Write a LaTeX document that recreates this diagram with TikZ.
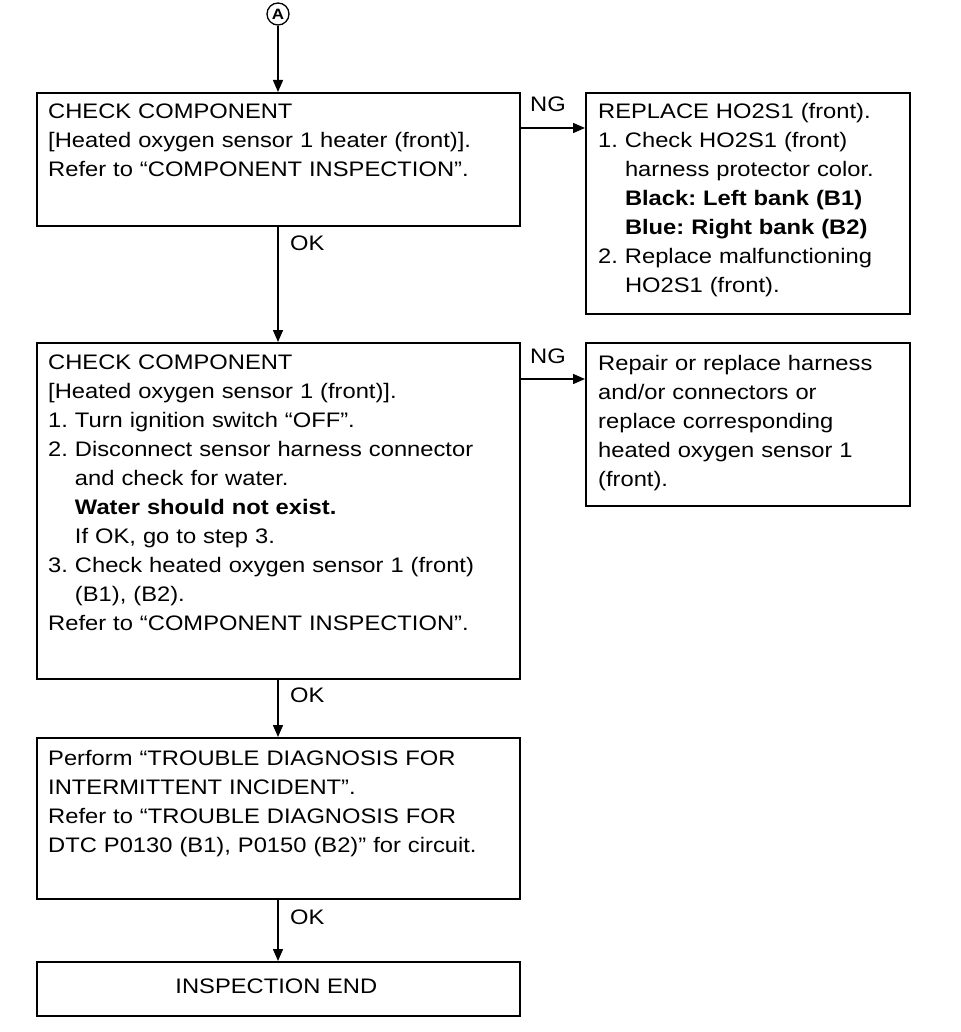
\documentclass[tikz,border=0pt]{standalone}
\usepackage{fontspec}
\setmainfont{Liberation Sans}[FakeStretch=1.13]
\usetikzlibrary{arrows.meta,calc}
\frenchspacing
\begin{document}
\begin{tikzpicture}[x=1pt,y=1pt,
  box/.style={draw,line width=1.7pt,rectangle,inner sep=0pt,anchor=north west},
  txt/.style={anchor=north west,inner sep=0pt,align=left,text width=#1,font=\fontsize{21}{29}\selectfont\frenchspacing},
  txt/.default=470pt,
  lbl/.style={inner sep=0pt,font=\fontsize{21}{25}\selectfont},
  arr/.style={line width=1.4pt,-{Triangle[length=12pt,width=10pt]}}]
\useasboundingbox (0,0) rectangle (960,-1032);
% circle A
\node[draw,circle,line width=1.3pt,inner sep=0pt,minimum size=22pt,font=\fontsize{15}{15}\selectfont\bfseries] (A) at (278,-14) {A};
% boxes
\node[box,minimum width=483pt,minimum height=133pt] (b1) at (36,-92) {};
\node[box,minimum width=324pt,minimum height=221pt] (r1) at (585,-92) {};
\node[box,minimum width=483pt,minimum height=336pt] (b2) at (36,-342) {};
\node[box,minimum width=324pt,minimum height=163pt] (r2) at (585,-342) {};
\node[box,minimum width=483pt,minimum height=161pt] (b3) at (36,-737) {};
\node[box,minimum width=483pt,minimum height=54pt] (b4) at (36,-961) {};
% texts
\node[txt] (t1) at (48,-97.7) {\strut CHECK COMPONENT\\
{[}Heated oxygen sensor 1 heater (front)].\\
Refer to “COMPONENT INSPECTION”.};
\node[txt=315pt] (tr1) at (598,-97.7) {\strut REPLACE HO2S1 (front).\\
1. Check HO2S1 (front)\\
\phantom{1. }harness protector color.\\
\phantom{1. }\textbf{Black: Left bank (B1)}\\
\phantom{1. }\textbf{Blue: Right bank (B2)}\\
2. Replace malfunctioning\\
\phantom{2. }HO2S1 (front).};
\node[txt] (t2) at (48,-348.7) {\strut CHECK COMPONENT\\
{[}Heated oxygen sensor 1 (front)].\\
1. Turn ignition switch “OFF”.\\
2. Disconnect sensor harness connector\\
\phantom{2. }and check for water.\\
\phantom{2. }\textbf{Water should not exist.}\\
\phantom{2. }If OK, go to step 3.\\
3. Check heated oxygen sensor 1 (front)\\
\phantom{3. }(B1), (B2).\\
Refer to “COMPONENT INSPECTION”.};
\node[txt=315pt] (tr2) at (598,-349.7) {\strut Repair or replace harness\\
and/or connectors or\\
replace corresponding\\
heated oxygen sensor 1\\
(front).};
\node[txt] (t3) at (48,-744.7) {\strut Perform “TROUBLE DIAGNOSIS FOR\\
INTERMITTENT INCIDENT”.\\
Refer to “TROUBLE DIAGNOSIS FOR\\
DTC P0130 (B1), P0150 (B2)” for circuit.};
\node[lbl] (t4) at ($(b4.center)+(-2,3)$) {INSPECTION END};
% connectors
\draw[arr] (A) -- (A |- b1.north);
\draw[arr] (A |- b1.south) -- (A |- b2.north);
\draw[arr] (A |- b2.south) -- (A |- b3.north);
\draw[arr] (A |- b3.south) -- (A |- b4.north);
\coordinate (ng1) at (0,-128);
\coordinate (ng2) at (0,-379);
\draw[arr] (ng1 -| b1.east) -- (ng1 -| r1.west);
\draw[arr] (ng2 -| b2.east) -- (ng2 -| r2.west);
% labels
\node[lbl,anchor=west] (ok1) at (290,-243) {OK};
\node[lbl,anchor=west] (ok2) at (290,-695) {OK};
\node[lbl,anchor=west] (ok3) at (290,-917) {OK};
\node[lbl,anchor=west] (ng1l) at (530,-104) {NG};
\node[lbl,anchor=west] (ng2l) at (530,-356) {NG};
\end{tikzpicture}
\end{document}
